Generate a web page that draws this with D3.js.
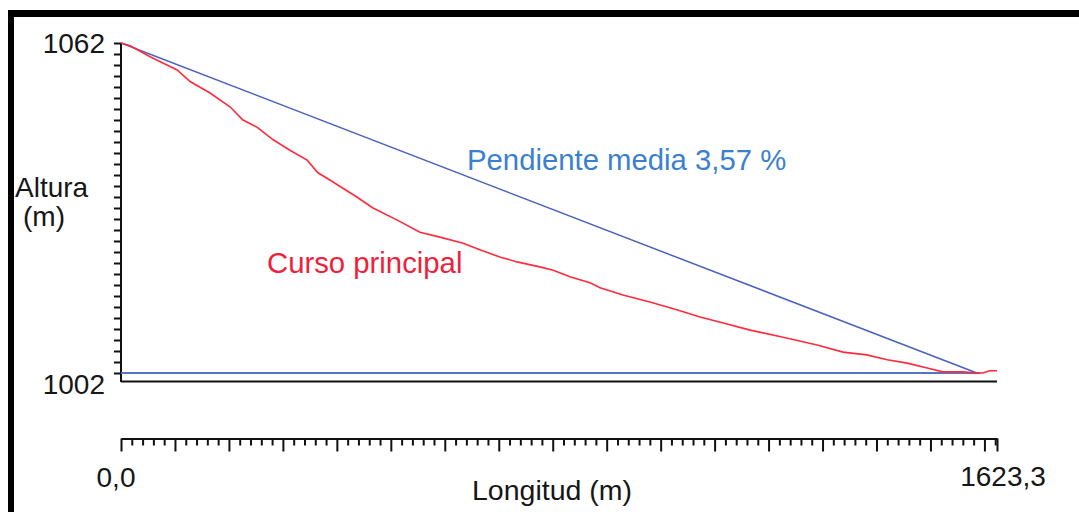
<!DOCTYPE html>
<html>
<head>
<meta charset="utf-8">
<script src="https://cdn.jsdelivr.net/npm/d3@7"></script>
<style>
  html, body { margin: 0; padding: 0; background: #fff; }
  svg { display: block; font-family: "Liberation Sans", Arial, sans-serif; }
</style>
</head>
<body>
<svg id="chart" width="1079" height="512"></svg>
<script>
// ---- data ----
const lengthDomain = [0, 1623.3];
const heightDomain = [1002, 1062];
const yTickLabels = ["1002", "1062"];
const xTickLabels = ["0,0", "1623,3"];

// Curso principal (longitud m, altura m)
const cursoLength = [0, 17, 54, 104, 128, 165, 202, 226, 252, 282, 313, 345, 365, 387, 437, 467, 512, 554, 591, 634, 665, 702, 734, 776, 801, 832, 869, 888, 930, 980, 1030, 1073, 1116, 1166, 1227, 1290, 1338, 1382, 1420, 1457, 1494, 1523, 1560, 1586, 1597, 1610, 1623.3];
const cursoHeight = [1062, 1061.5, 1059.5, 1057.1, 1055.0, 1052.9, 1050.4, 1048.0, 1046.7, 1044.4, 1042.5, 1040.7, 1038.4, 1037.1, 1034.0, 1032.0, 1029.8, 1027.6, 1026.7, 1025.6, 1024.4, 1023.1, 1022.2, 1021.3, 1020.7, 1019.5, 1018.4, 1017.5, 1016.2, 1014.9, 1013.5, 1012.2, 1011.1, 1009.8, 1008.5, 1007.1, 1005.8, 1005.3, 1004.4, 1003.8, 1002.9, 1002.2, 1002.2, 1002.0, 1002.0, 1002.4, 1002.4];

// Pendiente media line
const slopeLength = [0, 1586];
const slopeHeight = [1062, 1002];

// Base level line
const baseLength = [0, 1592];
const baseHeight = [1002, 1002];

const labelSlope = "Pendiente media 3,57 %";
const labelCurso = "Curso principal";
const yTitle = ["Altura", "(m)"];
const xTitle = "Longitud (m)";

// ---- drawing ----
const svg = d3.select("#chart");
const x = d3.scaleLinear().domain(lengthDomain).range([121, 997]);
const y = d3.scaleLinear().domain(heightDomain).range([373, 43]);

// frame (top and left border)
svg.append("rect").attr("x", 8).attr("y", 10).attr("width", 1071).attr("height", 7).attr("fill", "#000");
svg.append("rect").attr("x", 8).attr("y", 10).attr("width", 6).attr("height", 502).attr("fill", "#000");

const textColor = "#161616";

// Y axis ticks
const yAxis = d3.axisLeft(y)
  .tickValues(d3.range(heightDomain[0], heightDomain[1] + 0.1, 2))
  .tickSize(7).tickSizeOuter(0).tickFormat("");
const gy = svg.append("g").attr("transform", "translate(121,0)").call(yAxis);
gy.select(".domain").remove();
gy.selectAll(".tick line").attr("stroke", "#111").attr("stroke-width", 2);
svg.append("line").attr("x1", 121).attr("x2", 121).attr("y1", y(heightDomain[1])).attr("y2", 382)
  .attr("stroke", "#111").attr("stroke-width", 2);

// baseline under plot
svg.append("line").attr("x1", x(0)).attr("x2", x(lengthDomain[1])).attr("y1", 381.5).attr("y2", 381.5)
  .attr("stroke", "#111").attr("stroke-width", 2);

// Y tick labels
svg.append("text").attr("x", 105).attr("y", y(1062) + 10).attr("text-anchor", "end")
  .attr("font-size", 28).attr("fill", textColor).text(yTickLabels[1]);
svg.append("text").attr("x", 105).attr("y", y(1002) + 21).attr("text-anchor", "end")
  .attr("font-size", 28).attr("fill", textColor).text(yTickLabels[0]);

// Y title
svg.append("text").attr("x", 15).attr("y", 197).attr("font-size", 28).attr("fill", textColor).text(yTitle[0]);
svg.append("text").attr("x", 23).attr("y", 226).attr("font-size", 28).attr("fill", textColor).text(yTitle[1]);

// X axis (separate, below)
const axisY = 438.5;
const minorVals = d3.range(0, lengthDomain[1], 20).filter(v => v % 100 !== 0);
const majorVals = d3.range(0, lengthDomain[1], 100).concat([lengthDomain[1]]);
const gxMinor = svg.append("g").attr("transform", `translate(0,${axisY})`)
  .call(d3.axisBottom(x).tickValues(minorVals).tickSize(7).tickSizeOuter(0).tickFormat(""));
const gxMajor = svg.append("g").attr("transform", `translate(0,${axisY})`)
  .call(d3.axisBottom(x).tickValues(majorVals).tickSize(13).tickSizeOuter(0).tickFormat(""));
gxMinor.select(".domain").attr("stroke", "#111").attr("stroke-width", 2);
gxMajor.select(".domain").remove();
svg.selectAll(".tick line").attr("stroke", "#111").attr("stroke-width", 2);

// X tick labels
svg.append("text").attr("x", x(0) - 5).attr("y", 487).attr("text-anchor", "middle")
  .attr("font-size", 28).attr("fill", textColor).text(xTickLabels[0]);
svg.append("text").attr("x", x(lengthDomain[1]) + 6).attr("y", 486).attr("text-anchor", "middle")
  .attr("font-size", 28).attr("fill", textColor).text(xTickLabels[1]);

// X title
svg.append("text").attr("x", 552).attr("y", 500).attr("text-anchor", "middle")
  .attr("font-size", 28.5).attr("fill", textColor).text(xTitle);

// lines
const line = d3.line().x(d => x(d[0])).y(d => y(d[1]));

svg.append("path").datum(baseLength.map((v, i) => [v, baseHeight[i]]))
  .attr("d", line).attr("fill", "none").attr("stroke", "#5674c6").attr("stroke-width", 2);

svg.append("path").datum(slopeLength.map((v, i) => [v, slopeHeight[i]]))
  .attr("d", line).attr("fill", "none").attr("stroke", "#4a62bd").attr("stroke-width", 1.5);

svg.append("path").datum(cursoLength.map((v, i) => [v, cursoHeight[i]]))
  .attr("d", line).attr("fill", "none").attr("stroke", "#ff2a3c").attr("stroke-width", 1.6);

// annotations
svg.append("text").attr("x", 467).attr("y", 170).attr("font-size", 29.3).attr("fill", "#3a7fd0").text(labelSlope);
svg.append("text").attr("x", 267).attr("y", 273).attr("font-size", 29.3).attr("fill", "#ee1f3c").text(labelCurso);
</script>
</body>
</html>
